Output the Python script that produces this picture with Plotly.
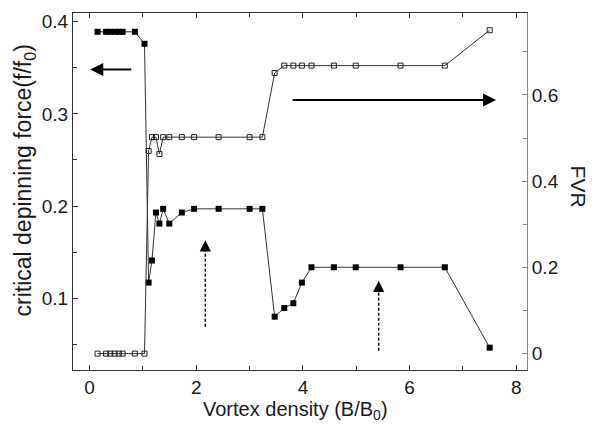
import plotly.graph_objects as go

# Vortex density (B/B0)
density = [0.15, 0.31, 0.39, 0.47, 0.55, 0.62, 0.85, 1.03,
           1.107, 1.17, 1.245, 1.31, 1.38, 1.495, 1.73, 1.96, 2.42, 3.0, 3.24,
           3.47, 3.65, 3.82, 3.98, 4.16, 4.58, 4.99, 5.83, 6.66, 7.5]

# critical depinning force (f/f0), filled squares, left axis
force = [0.389, 0.389, 0.389, 0.389, 0.389, 0.389, 0.389, 0.376,
         0.117, 0.141, 0.193, 0.181, 0.197, 0.181, 0.193, 0.197, 0.197, 0.197, 0.197,
         0.080, 0.0895, 0.0946, 0.117, 0.1336, 0.1336, 0.1336, 0.1336, 0.1336, 0.0464]

# FVR, open squares, right axis
fvr = [0, 0, 0, 0, 0, 0, 0, 0,
       0.470, 0.502, 0.502, 0.463, 0.502, 0.502, 0.502, 0.502, 0.502, 0.502, 0.502,
       0.651, 0.668, 0.668, 0.668, 0.668, 0.668, 0.668, 0.668, 0.668, 0.750]

x_ticks = [0, 2, 4, 6, 8]
left_ticks = [0.1, 0.2, 0.3, 0.4]
right_ticks = [0, 0.2, 0.4, 0.6]

FONT = "Liberation Sans, Arial, sans-serif"
INK = "#1a1a1a"

fig = go.Figure()
fig.add_trace(go.Scatter(
    x=density, y=force, mode="lines+markers",
    line=dict(color="#333333", width=1),
    marker=dict(symbol="square", size=6, color="black"),
    showlegend=False))
fig.add_trace(go.Scatter(
    x=density, y=fvr, mode="lines+markers", yaxis="y2",
    line=dict(color="#333333", width=1),
    marker=dict(symbol="square-open", size=5, color="#222222", line=dict(width=1)),
    showlegend=False))

# dashed arrows (shaft as dashed line, head as arrow annotation)
dashed_arrows = [(2.17, 0.069, 0.156), (5.42, 0.043, 0.112)]
for xa, y0, y1 in dashed_arrows:
    fig.add_shape(type="line", x0=xa, x1=xa, y0=y0, y1=y1, xref="x", yref="y",
                  line=dict(color="black", width=1.5, dash="3px,2px"))
    fig.add_annotation(x=xa, y=y1 + 0.007, ax=xa, ay=y1 - 0.003, xref="x", yref="y",
                       axref="x", ayref="y", text="", showarrow=True,
                       arrowhead=2, arrowsize=1.5, arrowwidth=1.5, arrowcolor="black")

# solid arrows
fig.add_annotation(x=0.013, y=0.348, ax=0.81, ay=0.348, xref="x", yref="y",
                   axref="x", ayref="y", text="", showarrow=True,
                   arrowhead=2, arrowsize=1.3, arrowwidth=2, arrowcolor="black")
fig.add_annotation(x=7.62, y=0.315, ax=3.78, ay=0.315, xref="x", yref="y",
                   axref="x", ayref="y", text="", showarrow=True,
                   arrowhead=2, arrowsize=1.3, arrowwidth=2, arrowcolor="black")

# axis titles
fig.add_annotation(text="critical depinning force(f/f<sub>0</sub>)", textangle=-90,
                   xref="paper", yref="paper", x=-0.107, y=0.532, xanchor="center",
                   yanchor="middle", showarrow=False,
                   font=dict(family=FONT, size=23, color=INK))
fig.add_annotation(text="FVR", textangle=90,
                   xref="paper", yref="paper", x=1.113, y=0.513, xanchor="center",
                   yanchor="middle", showarrow=False,
                   font=dict(family=FONT, size=21, color=INK))
fig.add_annotation(text="Vortex density (B/B<sub>0</sub>)",
                   xref="paper", yref="paper", x=0.49, y=-0.072, xanchor="center",
                   yanchor="top", showarrow=False,
                   font=dict(family=FONT, size=20, color=INK))

axis_common = dict(ticks="inside", ticklen=5, tickwidth=1,
                   showline=True, linewidth=1, showgrid=False, zeroline=False,
                   automargin=False,
                   tickfont=dict(family=FONT, size=19, color=INK))

# the page body adds an 8px offset, so the figure is 8px smaller than the window
fig.update_layout(
    width=593, height=416,
    margin=dict(l=65, r=74, t=5, b=54, autoexpand=False),
    paper_bgcolor="white", plot_bgcolor="white",
    xaxis=dict(range=[-0.31, 8.2], tickvals=x_ticks, ticktext=[str(v) for v in x_ticks],
               linecolor="#333333", tickcolor="#333333", mirror="ticks",
               minor=dict(dtick=1, ticks="inside", ticklen=4, tickcolor="#333333"),
               **axis_common),
    yaxis=dict(range=[0.0222, 0.4094], tickvals=left_ticks,
               ticktext=[f"{v:.1f}" for v in left_ticks],
               linecolor="#333333", tickcolor="#333333",
               minor=dict(tickvals=[0.05, 0.15, 0.25, 0.35], ticks="inside", ticklen=4,
                          tickcolor="#333333"),
               **axis_common),
    yaxis2=dict(range=[-0.038, 0.790], overlaying="y", side="right",
                tickvals=right_ticks, ticktext=["0", "0.2", "0.4", "0.6"],
                linecolor="#888888", tickcolor="#888888",
                minor=dict(tickvals=[0.1, 0.3, 0.5, 0.7], ticks="inside", ticklen=4,
                           tickcolor="#888888"),
                **axis_common),
)

fig.write_html("out.html")
